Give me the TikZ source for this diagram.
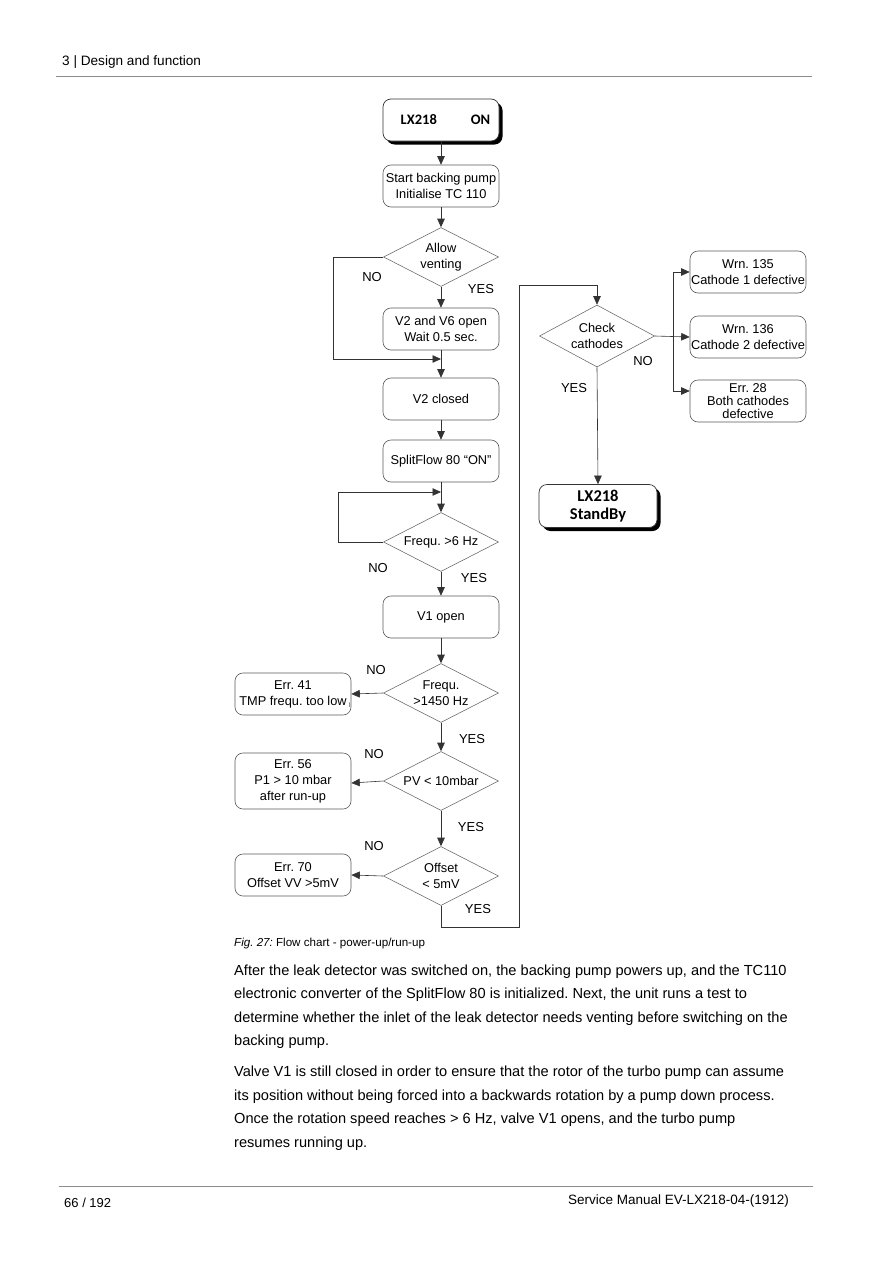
\documentclass[tikz,border=0pt]{standalone}
\usepackage{fontspec}
\setmainfont{Liberation Sans}
\newfontfamily\cali{Carlito}
\usetikzlibrary{shapes.geometric,arrows.meta,shadows,calc}
\frenchspacing
\tikzset{
  box/.style={draw=black!65, line width=0.6pt, rounded corners=8pt, fill=white,
    minimum width=116pt, minimum height=42pt, align=center, inner sep=1pt,
    font=\fontsize{12.8}{16}\selectfont},
  startbox/.style={box, draw=black!80, line width=0.7pt,
    drop shadow={shadow xshift=3.5pt, shadow yshift=-3.5pt, fill=black, opacity=1},
    font=\cali\bfseries\fontsize{14.5}{17}\selectfont},
  dec/.style={diamond, draw=black!60, line width=0.55pt, aspect=2, inner sep=0pt,
    minimum width=115pt, minimum height=59pt, align=center,
    font=\fontsize{12.8}{16}\selectfont},
  lbl/.style={font=\fontsize{13}{15}\selectfont},
  arr/.style={draw=black!80, line width=0.6pt, -{Triangle[length=8.5pt,width=7.5pt]}},
  ln/.style={draw=black!80, line width=0.6pt},
  body/.style={anchor=base west, inner sep=0pt, font=\fontsize{14.6}{16}\selectfont},
  rule/.style={draw=black!45, line width=0.8pt}
}
\begin{document}
\frenchspacing
\begin{tikzpicture}[x=1pt,y=-1pt]
\useasboundingbox[fill=white] (0,0) rectangle (893,1263);
% header
\node[anchor=base west, inner sep=0pt, font=\fontsize{13.6}{15}\selectfont] (hdr) at (62,66) {3 | Design and function};
\draw[rule] (56,76.5) -- (812,76.5);
% main column
\node[startbox] (on) at (441,120) {\hspace{9pt}LX218\hspace{34pt}ON};
\node[box] (sbp) at (441,186) {Start backing pump\\Initialise TC 110};
\node[dec] (av) at (441,257) {Allow\\venting};
\node[box] (v26) at (441,329) {V2 and V6 open\\Wait 0.5 sec.};
\coordinate (j1) at (441,359);
\coordinate (c1) at (333,359);
\node[box] (v2c) at (441,399) {V2 closed};
\node[box] (sf) at (441,461) {SplitFlow 80 “ON”};
\coordinate (j2) at (441,492);
\coordinate (c2) at (338,492);
\node[dec] (f6) at (441,542) {Frequ. >6 Hz};
\node[box] (v1) at (441,617) {V1 open};
\node[dec] (f1450) at (441,693) {Frequ.\\>1450 Hz};
\node[dec] (pv) at (441,781) {PV < 10mbar};
\node[dec] (off) at (441,876) {Offset\\< 5mV};
% errors left
\node[box] (e41) at (293,694) {Err. 41\\TMP frequ. too low\rlap{\,\tiny\raisebox{-1pt}{)}}};
\node[box, minimum height=56pt] (e56) at (293,781) {Err. 56\\P1 > 10 mbar\\after run-up};
\node[box] (e70) at (293,875) {Err. 70\\Offset VV >5mV};
% right column
\node[dec, minimum height=62pt] (cc) at (597,336) {Check\\cathodes};
\node[box] (w135) at (748,272) {Wrn. 135\\Cathode 1 defective};
\node[box] (w136) at (748,337) {Wrn. 136\\Cathode 2 defective};
\node[box, font=\fontsize{12.8}{13}\selectfont] (e28) at (748,401) {Err. 28\\Both cathodes\\defective};
\node[startbox, minimum width=118pt, minimum height=43pt, font=\cali\bfseries\fontsize{16.5}{18}\selectfont] (sb) at (598,506) {LX218\\StandBy};
\coordinate (c3) at (441,927);
\coordinate (c4) at (519,927);
\coordinate (c5) at (519,285);
\coordinate (c6) at (673,336);
% connectors
\draw[arr] (on.south) -- (sbp.north);
\draw[arr] (sbp.south) -- (av.north);
\draw[arr] (av.south) -- (v26.north);
\draw[ln] (v26.south) -- (j1);
\draw[arr] (j1) -- (v2c.north);
\draw[arr] (av.west) -| (c1) -- (j1);
\draw[arr] (v2c.south) -- (sf.north);
\draw[ln] (sf.south) -- (j2);
\draw[arr] (j2) -- (f6.north);
\draw[arr] (f6.west) -| (c2) -- (j2);
\draw[arr] (f6.south) -- (v1.north);
\draw[arr] (v1.south) -- (f1450.north);
\draw[arr] (f1450.south) -- (pv.north);
\draw[arr] (pv.south) -- (off.north);
\draw[arr] (f1450.west) -- (e41.east);
\draw[arr] (pv.west) -- ([yshift=-2pt]e56.east);
\draw[arr] (off.west) -- (e70.east);
\draw[arr] (off.south) -- (c3) -- (c4) -- (c5) -| (cc.north);
\draw[arr] (cc.east) -- (w136.west);
\draw[arr] (c6) |- (w135.west);
\draw[arr] (c6) |- ([yshift=10pt]e28.west);
\draw[arr] (cc.south) -- (sb.north);
% labels
\node[lbl] (n1) at (372,277) {NO};
\node[lbl] (y1) at (481,289) {YES};
\node[lbl] (n2) at (378,568) {NO};
\node[lbl] (y2) at (474,578) {YES};
\node[lbl] (n3) at (376,670) {NO};
\node[lbl] (y3) at (472,739) {YES};
\node[lbl] (n4) at (374,754) {NO};
\node[lbl] (y4) at (471,827) {YES};
\node[lbl] (n5) at (374,846) {NO};
\node[lbl] (y5) at (478,909) {YES};
\node[lbl] (n6) at (643,361) {NO};
\node[lbl] (y6) at (574,388) {YES};
% caption and body
\node[anchor=base west, inner sep=0pt, font=\fontsize{11.6}{15}\selectfont] (cap) at (234,946) {\textit{Fig. 27:} Flow chart - power-up/run-up};
\node[body] (b1) at (234,975) {After the leak detector was switched on, the backing pump powers up, and the TC110};
\node[body] (b2) at (234,998.5) {electronic converter of the SplitFlow 80 is initialized. Next, the unit runs a test to};
\node[body] (b3) at (234,1022) {determine whether the inlet of the leak detector needs venting before switching on the};
\node[body] (b4) at (234,1045.5) {backing pump.};
\node[body] (b5) at (234,1076.5) {Valve V1 is still closed in order to ensure that the rotor of the turbo pump can assume};
\node[body] (b6) at (234,1100) {its position without being forced into a backwards rotation by a pump down process.};
\node[body] (b7) at (234,1123.5) {Once the rotation speed reaches > 6 Hz, valve V1 opens, and the turbo pump};
\node[body] (b8) at (234,1147) {resumes running up.};
% footer
\draw[rule] (59,1186) -- (813,1186);
\node[anchor=base west, inner sep=0pt, font=\fontsize{13}{15}\selectfont] (pg) at (64,1207) {66 / 192};
\node[anchor=base east, inner sep=0pt, font=\fontsize{13.5}{15}\selectfont] (sm) at (789,1204) {Service Manual EV-LX218-04-(1912)};
\end{tikzpicture}
\end{document}
